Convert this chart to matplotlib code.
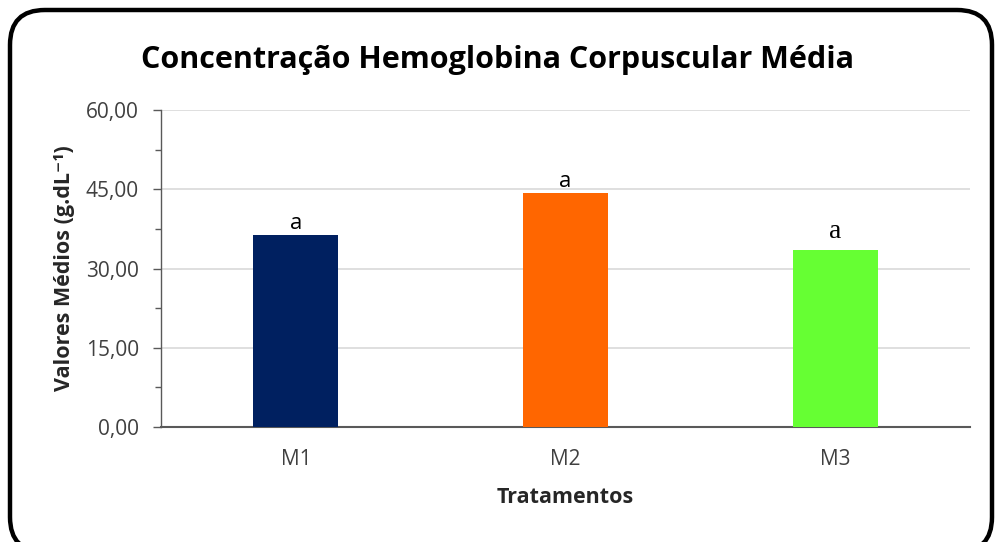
import matplotlib
matplotlib.use("Agg")
import matplotlib.pyplot as plt
from matplotlib.patches import FancyBboxPatch
from matplotlib.ticker import MultipleLocator, FuncFormatter

# data
tratamentos = ["M1", "M2", "M3"]
medias = [36.3, 44.2, 33.5]
letras = ["a", "a", "a"]
cores = ["#002060", "#FF6600", "#66FF33"]

plt.rcParams["font.family"] = ["Open Sans", "DejaVu Sans"]

fig = plt.figure(figsize=(9.96, 5.42), dpi=100)
ax = fig.add_axes([0.1617, 0.2122, 0.8125, 0.5848])

x = range(len(tratamentos))
bars = ax.bar(x, medias, width=0.315, color=cores, zorder=3)

# significance letters (the last one came out in a serif face in the original)
for i, (b, l) in enumerate(zip(bars, letras)):
    if i == 2:
        fam, off, fs = ["Liberation Serif"], 4, 20
    else:
        fam, off, fs = ["Open Sans", "DejaVu Sans"], 1, 16
    ax.annotate(l, (b.get_x() + b.get_width() / 2, b.get_height()),
                xytext=(0, off), textcoords="offset points",
                ha="center", va="bottom", fontsize=fs,
                family=fam, color="black", zorder=4)

ax.set_xlim(-0.5, 2.5)
ax.set_ylim(0, 60)
ax.yaxis.set_major_locator(MultipleLocator(15))
ax.yaxis.set_minor_locator(MultipleLocator(7.5))
ax.yaxis.set_major_formatter(FuncFormatter(lambda v, _: f"{v:.2f}".replace(".", ",")))
ax.set_xticks(list(x))
ax.set_xticklabels(tratamentos)

ax.grid(axis="y", color="#D9D9D9", lw=1.2, zorder=0)
for s in ("top", "right"):
    ax.spines[s].set_visible(False)
ax.spines["left"].set_color("#595959")
ax.spines["bottom"].set_color("#595959")
ax.spines["left"].set_linewidth(1.0)
ax.spines["bottom"].set_linewidth(1.5)

ax.tick_params(axis="y", which="major", length=6, width=1, color="#595959",
               labelsize=15, labelcolor="#404040", pad=10)
ax.tick_params(axis="y", which="minor", length=4, width=1, color="#595959")
ax.tick_params(axis="x", length=0, labelsize=15, labelcolor="#404040", pad=16)

ax.set_ylabel("Valores Médios (g.dL⁻¹)", fontsize=15.5, fontweight="bold",
              color="#262626", labelpad=8)
ax.set_xlabel("Tratamentos", fontsize=15.5, fontweight="bold",
              color="#262626", labelpad=12)

fig.text(0.499, 0.89, "Concentração Hemoglobina Corpuscular Média",
         ha="center", va="center", fontsize=22, fontweight="bold", color="black")

# rounded chart border
W, H = 996, 542
box = FancyBboxPatch((10 / W, -10 / H), (982) / W, (542) / H,
                     boxstyle="round,pad=0,rounding_size=0.035",
                     transform=fig.transFigure, fill=False,
                     ec="black", lw=3.2, mutation_aspect=W / H)
fig.patches.append(box)

fig.savefig("out.png", dpi=100)
